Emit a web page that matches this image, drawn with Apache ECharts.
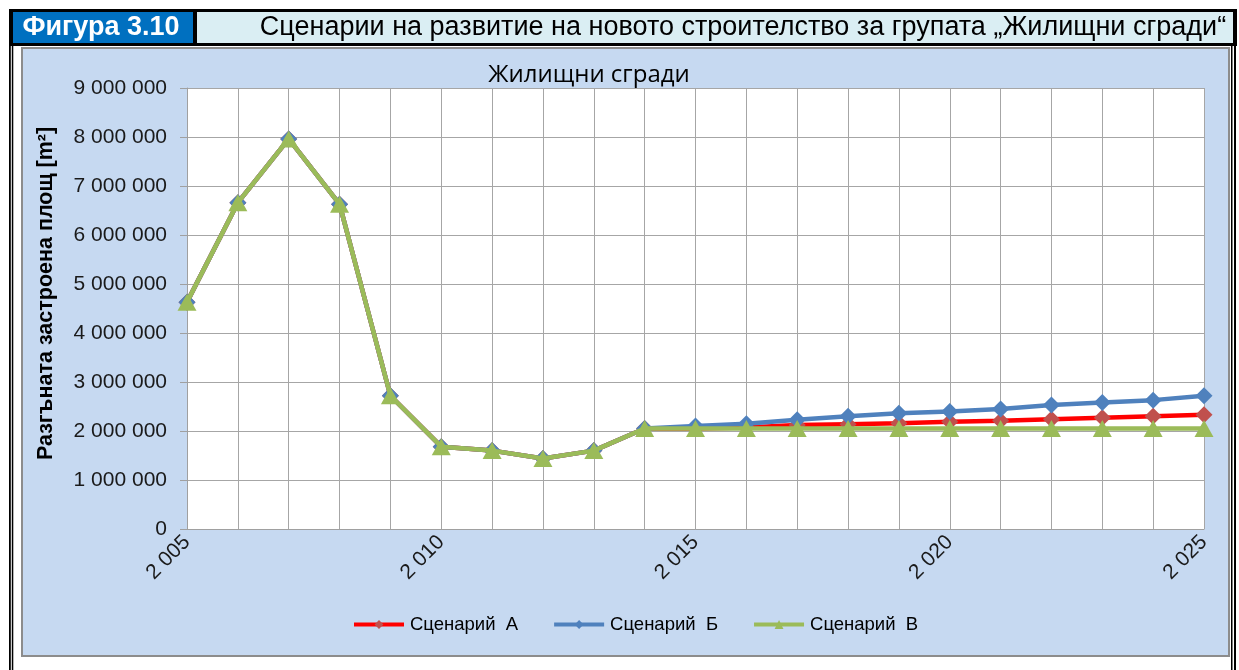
<!DOCTYPE html>
<html>
<head>
<meta charset="utf-8">
<script src="https://cdn.jsdelivr.net/npm/echarts@6/dist/echarts.min.js"></script>
<style>
html,body{margin:0;padding:0;background:#fff;}
#c{width:1239px;height:670px;}
</style>
</head>
<body>
<div id="c"></div>
<script>
const years = ['2005','2006','2007','2008','2009','2010','2011','2012','2013','2014','2015','2016','2017','2018','2019','2020','2021','2022','2023','2024','2025'];
const scenarioA = [4630000,6660000,7960000,6630000,2720000,1680000,1600000,1440000,1600000,2050000,2050000,2070000,2120000,2140000,2160000,2190000,2210000,2240000,2270000,2300000,2330000];
const scenarioB = [4630000,6660000,7960000,6630000,2720000,1680000,1600000,1440000,1600000,2050000,2100000,2150000,2230000,2300000,2360000,2400000,2450000,2530000,2580000,2630000,2720000];
const scenarioC = [4630000,6660000,7960000,6630000,2720000,1680000,1600000,1440000,1600000,2050000,2050000,2050000,2050000,2050000,2050000,2050000,2050000,2050000,2050000,2050000,2050000];
const seriesNames = ['Сценарий  А','Сценарий  Б','Сценарий  В'];
const figureLabel = 'Фигура 3.10';
const figureTitle = 'Сценарии на развитие на новото строителство за групата „Жилищни сгради“';
const chartTitle = 'Жилищни сгради';
const yAxisName = 'Разгъната застроена площ [m²]';

function fmt(v){
  return String(v).replace(/\B(?=(\d{3})+(?!\d))/g,' ');
}

const chart = echarts.init(document.getElementById('c'), null, {renderer:'canvas'});
const F = '"Liberation Sans", Arial, sans-serif';

chart.setOption({
  animation:false,
  backgroundColor:'#ffffff',
  graphic:[
    {type:'rect', z:-20, shape:{x:9,y:9,width:1228,height:37}, style:{fill:'#000'}},
    {type:'rect', z:-19, shape:{x:13,y:12,width:180,height:31}, style:{fill:'#0070C0'}},
    {type:'rect', z:-19, shape:{x:197,y:12,width:1036,height:31}, style:{fill:'#DAEEF3'}},
    {type:'text', z:-18, style:{x:101,y:28,text:figureLabel,fill:'#fff',font:'bold 27px '+F,align:'center',verticalAlign:'middle'}},
    {type:'text', z:-18, style:{x:743,y:28,text:figureTitle,fill:'#000',font:'27px '+F,align:'center',verticalAlign:'middle'}},
    {type:'rect', z:-20, shape:{x:9,y:46,width:1.8,height:630}, style:{fill:'#000'}},
    {type:'rect', z:-20, shape:{x:11.8,y:46,width:1.5,height:630}, style:{fill:'#000'}},
    {type:'rect', z:-20, shape:{x:1231,y:46,width:1.5,height:630}, style:{fill:'#000'}},
    {type:'rect', z:-20, shape:{x:1234,y:46,width:2,height:630}, style:{fill:'#000'}},
    {type:'rect', z:-19, shape:{x:22,y:48,width:1207,height:608}, style:{fill:'#C6D9F1',stroke:'#8C8C8C',lineWidth:2}},
    {type:'text', z:-18, style:{x:589,y:75,text:chartTitle,fill:'#000',font:'24px "Open Sans", "Noto Sans", sans-serif',align:'center',verticalAlign:'middle'}}
  ],
  grid:{left:187,right:35,top:88,bottom:141,show:true,backgroundColor:'#ffffff',borderWidth:0},
  legend:{
    bottom:31,
    left:347,
    itemWidth:50,
    itemHeight:11,
    itemGap:34,
    lineStyle:{width:4},
    textStyle:{fontFamily:F,fontSize:18.5,color:'#000',padding:[0,0,0,1]},
    data:seriesNames
  },
  xAxis:{
    type:'category',
    data:years,
    boundaryGap:false,
    axisLine:{lineStyle:{color:'#A0A0A0',width:1}},
    axisTick:{show:false},
    axisLabel:{
      interval:4,
      rotate:45,
      margin:10,
      fontFamily:F,fontSize:21,color:'#1a1a1a',
      formatter:fmt
    },
    splitLine:{show:true,interval:0,lineStyle:{color:'#A6A6A6',width:1}}
  },
  yAxis:{
    type:'value',
    min:0,max:9000000,interval:1000000,
    name:yAxisName,
    nameLocation:'middle',
    nameGap:130,
    nameTextStyle:{fontFamily:F,fontSize:21.5,fontWeight:'bold',color:'#000',padding:[0,0,0,30]},
    axisLine:{show:true,lineStyle:{color:'#A0A0A0',width:1}},
    axisTick:{show:true,length:7,lineStyle:{color:'#A0A0A0'}},
    axisLabel:{fontFamily:F,fontSize:21,color:'#1a1a1a',margin:20,formatter:fmt},
    splitLine:{show:true,lineStyle:{color:'#A6A6A6',width:1}}
  },
  series:[
    {name:seriesNames[0],type:'line',data:scenarioA,symbol:'diamond',symbolSize:[17,17],
     lineStyle:{color:'#FF0000',width:4.5},itemStyle:{color:'#C0504D'},z:2},
    {name:seriesNames[1],type:'line',data:scenarioB,symbol:'diamond',symbolSize:[17,17],
     lineStyle:{color:'#4F81BD',width:4.5},itemStyle:{color:'#4F81BD'},z:3},
    {name:seriesNames[2],type:'line',data:scenarioC,symbol:'triangle',symbolSize:[19,17],
     lineStyle:{color:'#9BBB59',width:4.5},itemStyle:{color:'#9BBB59'},z:4}
  ]
});
</script>
</body>
</html>
